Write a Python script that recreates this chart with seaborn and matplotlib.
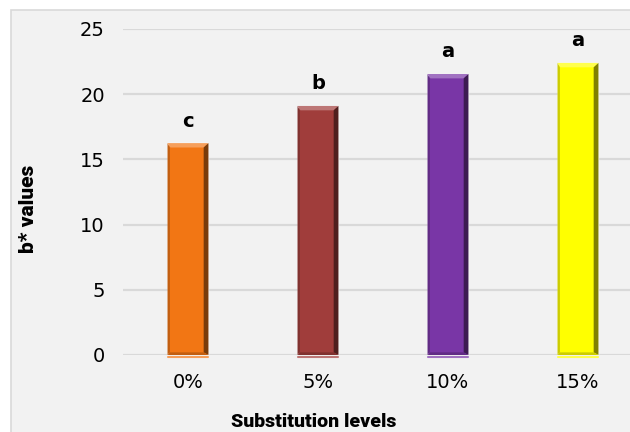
import matplotlib
matplotlib.use('Agg')
import matplotlib.pyplot as plt
from matplotlib.patches import Rectangle, Polygon
from matplotlib import font_manager
import matplotlib.colors as mcolors
import numpy as np
import pandas as pd
import seaborn as sns

levels = ['0%', '5%', '10%', '15%']
b_values = [16.25, 19.1, 21.55, 22.4]
letters = ['c', 'b', 'a', 'a']
colors = ['#F27614', '#A03D3B', '#7936A6', '#FFFF00']

df = pd.DataFrame({'level': levels, 'b': b_values})

sns.set_theme(style='white')
names = {f.name for f in font_manager.fontManager.ttflist}
if 'Liberation Sans Narrow' in names:
    label_font = 'Liberation Sans Narrow'
elif 'Roboto' in names:
    label_font = 'Roboto'
else:
    label_font = 'DejaVu Sans'
plt.rcParams['font.family'] = ['DejaVu Sans']
plt.rcParams['text.color'] = 'black'

W, H = 630, 432
fig = plt.figure(figsize=(W / 100, H / 100), dpi=100, facecolor='white')

# grey chart area, cut off at the right and bottom
fig.patches.append(Rectangle((11 / W, -0.05), 1.1, 1 - 10 / H + 0.05,
                             transform=fig.transFigure, facecolor='#f2f2f2',
                             edgecolor='#d9d9d9', linewidth=1.2, zorder=-5))

ax = fig.add_axes([123 / W, 1 - 355 / H, 520 / W, 326 / H])
ax.set_facecolor('none')
ax.set_zorder(2)

sns.barplot(data=df, x='level', y='b', hue='level', palette=colors,
            saturation=1, width=0.315, legend=False, ax=ax, zorder=3)

ax.set_ylim(0, 25)
ax.set_xlim(-0.5, 3.5)
ax.set_yticks([0, 5, 10, 15, 20, 25])
ax.yaxis.grid(True, color='#d9d9d9', linewidth=1.6)
ax.set_axisbelow(True)
for s in ax.spines.values():
    s.set_visible(False)
ax.tick_params(axis='both', length=0, labelsize=14, colors='black')
ax.tick_params(axis='y', pad=13)
ax.tick_params(axis='x', pad=13)
ax.set_xlabel('')
ax.set_ylabel('')

# bevel effect on the bars
px_x = 4 / 130
px_y = 4 / (326 / 25)
for p, col, lab in zip(ax.patches, colors, letters):
    x0, w, h = p.get_x(), p.get_width(), p.get_height()
    x1 = x0 + w
    base = np.array(mcolors.to_rgb(col))
    light = base + (1 - base) * 0.3
    dark = base * 0.5
    mid = base * 0.8
    bx, by = px_x * 1.2, px_y * 1.1
    ax.add_patch(Polygon([(x0, h), (x1, h), (x1 - bx, h - by), (x0 + bx * 0.6, h - by)],
                         closed=True, facecolor=light, edgecolor='none', zorder=4))
    ax.add_patch(Polygon([(x1, h), (x1, 0), (x1 - bx, by * 0.6), (x1 - bx, h - by)],
                         closed=True, facecolor=dark, edgecolor='none', zorder=4))
    ax.add_patch(Polygon([(x0, h), (x0, 0), (x0 + bx * 0.5, by * 0.6), (x0 + bx * 0.5, h - by)],
                         closed=True, facecolor=mid, edgecolor='none', zorder=4))
    ax.add_patch(Polygon([(x0, 0), (x1, 0), (x1 - bx, by * 0.6), (x0 + bx * 0.5, by * 0.6)],
                         closed=True, facecolor=mid, edgecolor='none', zorder=4))
    ax.plot([x0, x1], [-0.12, -0.12], color=light, lw=1.5, zorder=4, clip_on=False)
    ax.annotate(lab, (p.get_x() + w / 2, h), xytext=(0, 22), textcoords='offset pixels',
                ha='center', va='center', fontsize=14, fontweight='bold', color='black')

fig.text(314 / W, 1 - 422 / H, 'Substitution levels', ha='center', va='center',
         fontsize=14, fontweight='heavy', family=[label_font, 'DejaVu Sans'],
         fontstretch='condensed', color='black')
fig.text(29 / W, 1 - 209 / H, 'b* values', ha='center', va='center', rotation=90,
         fontsize=15, fontweight='heavy', family=[label_font, 'DejaVu Sans'],
         fontstretch='condensed', color='black')

fig.savefig('out.png', dpi=100)
